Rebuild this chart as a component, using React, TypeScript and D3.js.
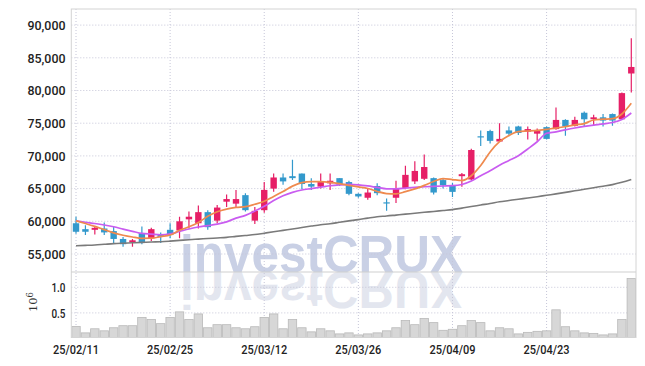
import React from 'react';
import * as d3 from 'd3';

const dates = [
  '25/02/11','25/02/12','25/02/13','25/02/14','25/02/17','25/02/18','25/02/19','25/02/20','25/02/21','25/02/24',
  '25/02/25','25/02/26','25/02/27','25/02/28','25/03/04','25/03/05','25/03/06','25/03/07','25/03/10','25/03/11',
  '25/03/12','25/03/13','25/03/14','25/03/17','25/03/18','25/03/19','25/03/20','25/03/21','25/03/24','25/03/25',
  '25/03/26','25/03/27','25/03/28','25/03/31','25/04/01','25/04/02','25/04/03','25/04/04','25/04/07','25/04/08',
  '25/04/09','25/04/10','25/04/11','25/04/14','25/04/15','25/04/16','25/04/17','25/04/18','25/04/21','25/04/22',
  '25/04/23','25/04/24','25/04/25','25/04/28','25/04/29','25/04/30','25/05/02','25/05/07','25/05/08','25/05/09',
];

const opens = [
  59700,58800,58700,58900,58500,57300,56800,58200,57400,58000,
  58700,58600,60300,59700,61400,60100,63000,62700,64000,60100,
  61700,65000,66700,66900,67300,65700,65300,65800,66600,66000,
  64200,63600,65400,62900,63600,65100,66100,66500,66600,66300,
  65400,66900,66400,73000,73800,72200,73900,74500,73700,73400,
  74400,74100,75500,74600,76600,75600,75900,76400,75600,82600,
];
const highs = [
  60700,59400,59300,59800,59200,57600,57300,59200,59000,58300,
  59700,60700,61500,62400,61700,62500,64100,64800,64300,62200,
  66000,67300,67300,69400,67300,66600,67300,67300,66600,66200,
  64300,65000,65800,63500,66200,68500,69200,70200,66700,66600,
  65900,67400,71100,73900,74000,75000,74500,74600,74500,74200,
  74500,77400,75600,76000,76800,76300,76400,76500,79700,88000,
];
const lows = [
  58100,57900,58000,57900,56600,56100,56100,56500,57000,56700,
  57400,57400,58900,58900,58700,59700,62200,62200,61500,59600,
  61300,64500,65600,66300,64900,64800,65000,64800,65400,64000,
  63600,63300,64000,61600,62800,64900,65700,66300,64100,65000,
  63700,65300,66300,71500,71900,72200,73000,73200,72500,72300,
  72500,74000,73100,74500,74500,74600,74500,74600,75500,79700,
];
const closes = [
  58400,58400,59000,58300,57300,56500,57100,56700,58800,57600,
  57900,60000,60700,61400,59100,62100,63400,63400,61700,61600,
  64800,66700,66100,66600,65700,65300,66000,66200,65600,64200,
  63800,64400,64300,62800,65000,67100,67700,68300,64400,65500,
  64500,67200,70900,72900,72300,72600,73400,73500,74100,73800,
  72600,75500,74500,75500,75600,75900,75400,75400,79600,83600,
];
const volumes = [
  235000,110000,190000,150000,210000,250000,250000,410000,370000,290000,
  410000,520000,370000,480000,210000,270000,270000,210000,190000,230000,
  410000,480000,190000,370000,210000,130000,190000,150000,90000,110000,
  70000,90000,110000,150000,210000,350000,270000,390000,310000,160000,
  180000,250000,350000,310000,150000,210000,190000,90000,120000,140000,
  150000,560000,230000,150000,110000,100000,70000,90000,370000,1170000,
];
const ma5 = [
  60080,59660,59220,58720,58240,57870,57600,57400,57420,57660,
  57900,58620,59160,59830,60760,61450,61870,62130,62230,62600,
  63060,63790,64540,65380,65920,66060,66060,65960,65760,65500,
  65260,65020,64560,64240,64190,64530,64950,65490,66090,66530,
  66380,66240,66970,68530,70610,72170,73130,73720,73810,73910,
  74070,74240,74480,74750,74940,75490,75610,75690,76410,78040,
];
const ma20 = [
  60080,59860,59660,59430,59160,58810,58470,58150,58040,57940,
  58070,58440,58820,59130,59330,59570,59920,60490,60900,61570,
  62310,63170,63900,64420,64790,65000,65210,65440,65570,65640,
  65580,65410,65180,64970,64950,65080,65200,65280,65350,65400,
  65440,65630,66160,66970,67740,68580,69300,70020,71060,72160,
  73460,73680,73990,74270,74510,74710,74890,75110,75570,76560,
];
const ma60 = [
  56270,56320,56380,56480,56580,56650,56710,56770,56840,56880,
  56970,57080,57190,57280,57360,57450,57540,57690,57830,57970,
  58180,58390,58610,58820,59050,59270,59480,59630,59850,60060,
  60260,60490,60700,60810,60950,61090,61240,61380,61510,61650,
  61790,62020,62250,62490,62720,62980,63180,63380,63560,63760,
  63980,64190,64420,64660,64890,65140,65370,65610,65960,66380,
];

const priceTicks = [55000, 60000, 65000, 70000, 75000, 80000, 85000, 90000];
const volumeTicks = [500000, 1000000];
const volumeTickLabels = ['0.5', '1.0'];
const dateTickLabels = ['25/02/11', '25/02/25', '25/03/12', '25/03/26', '25/04/09', '25/04/23'];

const W = 645, H = 366;
const L = 71.3, R = 636;
const PT = 9, PB = 272, VB = 337.5;
const UP = '#e61f66', DOWN = '#3399cc';
const GRID = '#c6c6d8';
const AX_FONT = 'Roboto, "DejaVu Sans", sans-serif';

export default function App() {
  const x = d3.scaleBand<string>().domain(dates).range([L, R]).padding(0);
  const bw = x.bandwidth();
  const cx = (d: string) => (x(d) as number) + bw / 2;
  const y = d3.scaleLinear().domain([55000, 90000]).range([254, 25.1]);
  const yv = d3.scaleLinear().domain([0, 1000000]).range([338.5, 287.3]);

  const lineGen = (vals: number[]) =>
    d3.line<number>().x((_, i) => cx(dates[i])).y((v) => y(v)).curve(d3.curveMonotoneX)(vals) as string;

  const candles = dates.map((d, i) => ({ d, o: opens[i], h: highs[i], l: lows[i], c: closes[i] }));

  return (
    <svg width={W} height={H} style={{ position: 'absolute', left: 0, top: 0, background: '#fff' }}>
      <defs>
        <clipPath id="priceClip"><rect x={L} y={PT} width={R - L} height={PB - PT} /></clipPath>
        <clipPath id="volClip"><rect x={L} y={PB} width={R - L} height={VB - PB} /></clipPath>
      </defs>

      {/* watermark */}
      <text x={180} y={PB} fontFamily='"Liberation Sans", Arial, sans-serif' fontWeight="bold" fontSize={51}
        textLength={283} lengthAdjust="spacingAndGlyphs" fill="#c9d0e5">investCRUX</text>
      <g clipPath="url(#volClip)">
        <g transform={`translate(0, ${2 * PB}) scale(1,-1)`}>
          <text x={180} y={PB} fontFamily='"Liberation Sans", Arial, sans-serif' fontWeight="bold" fontSize={51}
            textLength={283} lengthAdjust="spacingAndGlyphs" fill="#e3e6ef">investCRUX</text>
        </g>
      </g>

      {/* grid */}
      {priceTicks.map((t) => (
        <line key={'pg' + t} x1={L} x2={R} y1={y(t)} y2={y(t)} stroke={GRID} strokeDasharray="1,2" />
      ))}
      {volumeTicks.map((t) => (
        <line key={'vg' + t} x1={L} x2={R} y1={yv(t)} y2={yv(t)} stroke={GRID} strokeDasharray="1,2" />
      ))}
      {dateTickLabels.map((d) => (
        <line key={'xg' + d} x1={cx(d)} x2={cx(d)} y1={PT} y2={VB} stroke={GRID} strokeDasharray="1,2" />
      ))}

      {/* volume */}
      <g clipPath="url(#volClip)">
        {dates.map((d, i) => (
          <rect key={'v' + d} x={(x(d) as number) + 0.5} y={yv(volumes[i])} width={bw - 1}
            height={yv(0) - yv(volumes[i])} fill="#d7d7d7" stroke="#b9b9b9" strokeWidth={0.8} />
        ))}
      </g>

      {/* candles */}
      <g clipPath="url(#priceClip)">
        {candles.map((k) => {
          const col = k.c >= k.o ? UP : DOWN;
          const top = y(Math.max(k.o, k.c));
          const bot = y(Math.min(k.o, k.c));
          return (
            <g key={'c' + k.d}>
              <line x1={cx(k.d)} x2={cx(k.d)} y1={y(k.h)} y2={y(k.l)} stroke={col} strokeWidth={1.2} />
              <rect x={cx(k.d) - 3.2} y={top} width={6.4} height={Math.max(1.2, bot - top)} fill={col} />
            </g>
          );
        })}
        <path d={lineGen(ma60)} fill="none" stroke="#7a7a7a" strokeWidth={1.6} />
        <path d={lineGen(ma20)} fill="none" stroke="#c95cf0" strokeWidth={1.7} />
        <path d={lineGen(ma5)} fill="none" stroke="#ef8a4e" strokeWidth={1.7} />
      </g>

      {/* borders */}
      <rect x={L} y={PT} width={R - L} height={VB - PT} fill="none" stroke="#d4d4d4" strokeWidth={1} />
      <line x1={L} x2={R} y1={PB} y2={PB} stroke="#cfcfcf" strokeWidth={1.2} />

      {/* y labels */}
      {priceTicks.map((t) => (
        <text key={'pl' + t} x={65.5} y={y(t) + 4.8} textAnchor="end" fontFamily={AX_FONT} fontWeight={500}
          fontSize={13.5} textLength={38} lengthAdjust="spacingAndGlyphs" fill="#222">
          {d3.format(',')(t)}
        </text>
      ))}
      {volumeTicks.map((t, i) => (
        <text key={'vl' + t} x={65.5} y={yv(t) + 4.8} textAnchor="end" fontFamily={AX_FONT} fontWeight={500}
          fontSize={13.5} textLength={14} lengthAdjust="spacingAndGlyphs" fill="#222">
          {volumeTickLabels[i]}
        </text>
      ))}
      <text transform="translate(36.5, 302) rotate(-90)" textAnchor="middle" fontFamily='"DejaVu Serif", serif'
        fontSize={11.5} fill="#333">
        10<tspan dy={-4} fontSize={8.5}>6</tspan>
      </text>

      {/* x labels */}
      {dateTickLabels.map((d) => (
        <text key={'xl' + d} x={cx(d)} y={354} textAnchor="middle" fontFamily={AX_FONT} fontWeight={500}
          fontSize={13.5} textLength={46} lengthAdjust="spacingAndGlyphs" fill="#222">
          {d}
        </text>
      ))}
    </svg>
  );
}
